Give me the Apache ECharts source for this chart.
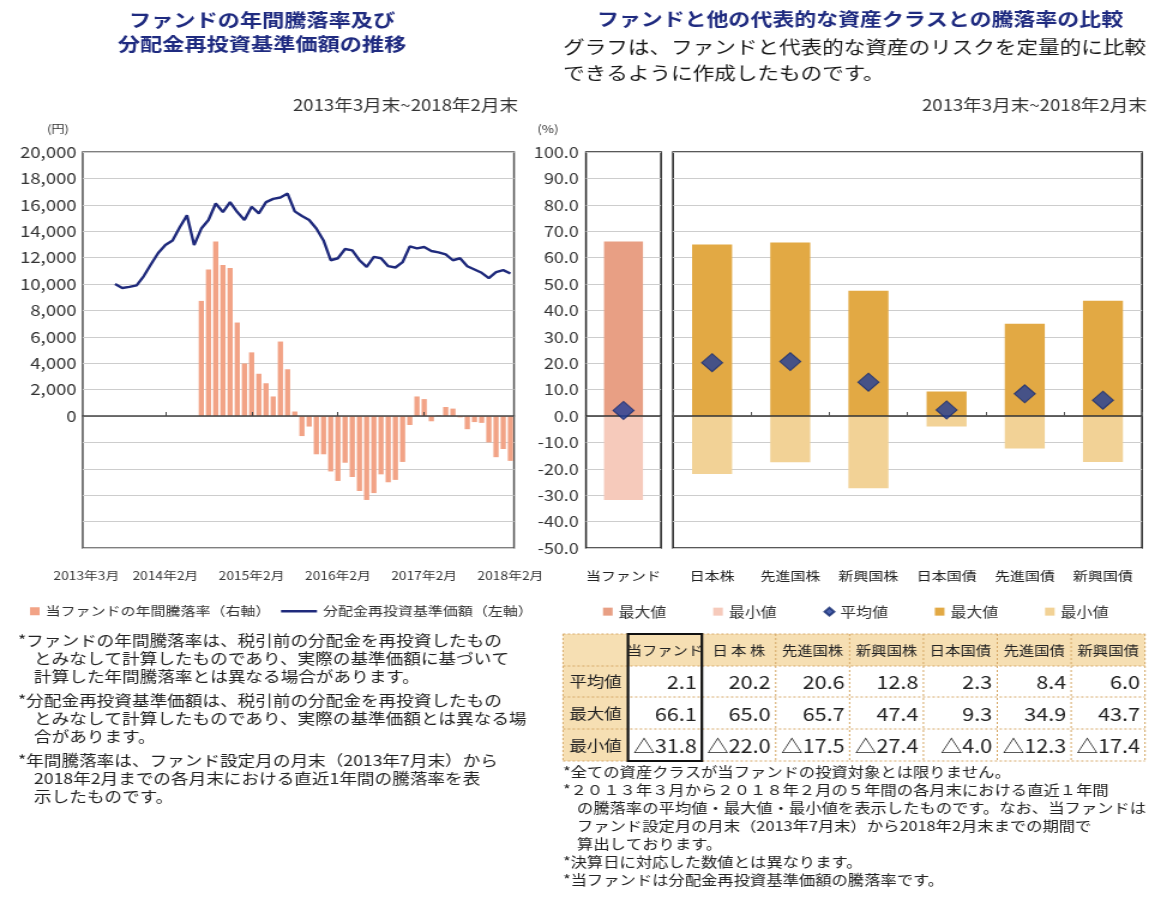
<!DOCTYPE html>
<html><head><meta charset="utf-8">
<script src="https://cdn.jsdelivr.net/npm/echarts/dist/echarts.min.js"></script>
<style>
html,body{margin:0;padding:0;background:#fff;overflow:hidden;}
#wrap{width:1149px;height:913px;overflow:hidden;}
#c{width:958px;height:913px;transform:scaleX(1.19937);transform-origin:0 0;}
</style></head><body><div id="wrap"><div id="c"></div></div>
<script>
// ---------------- data ----------------
const months = ['2013年3月','2013年4月','2013年5月','2013年6月','2013年7月','2013年8月','2013年9月','2013年10月','2013年11月','2013年12月',
'2014年1月','2014年2月','2014年3月','2014年4月','2014年5月','2014年6月','2014年7月','2014年8月','2014年9月','2014年10月','2014年11月','2014年12月',
'2015年1月','2015年2月','2015年3月','2015年4月','2015年5月','2015年6月','2015年7月','2015年8月','2015年9月','2015年10月','2015年11月','2015年12月',
'2016年1月','2016年2月','2016年3月','2016年4月','2016年5月','2016年6月','2016年7月','2016年8月','2016年9月','2016年10月','2016年11月','2016年12月',
'2017年1月','2017年2月','2017年3月','2017年4月','2017年5月','2017年6月','2017年7月','2017年8月','2017年9月','2017年10月','2017年11月','2017年12月',
'2018年1月','2018年2月'];
const xTickLabels = ['2013年3月','2014年2月','2015年2月','2016年2月','2017年2月','2018年2月'];
// 分配金再投資基準価額（円）
const navValues = [null,null,null,null,10000,9700,9780,9900,10600,11500,
12350,12950,13300,14300,15200,12950,14200,14850,16100,15450,16200,15450,
14850,15850,15350,16200,16450,16550,16850,15500,15150,14850,14200,13300,
11800,11950,12650,12550,11800,11300,12050,11950,11350,11250,11650,12850,
12700,12800,12500,12400,12250,11800,11950,11350,11100,10850,10450,10900,
11050,10800];
// 当ファンドの年間騰落率（％）
const annualReturns = [null,null,null,null,null,null,null,null,null,null,
null,null,null,null,null,null,43.6,55.5,66.1,57.2,56.1,35.4,
19.9,24.1,16.0,12.4,7.4,28.2,17.7,1.7,-7.6,-4.0,-14.5,-14.5,
-21.0,-24.6,-17.7,-23.1,-28.4,-31.8,-29.2,-22.1,-25.1,-24.2,-17.4,-3.4,
7.4,6.4,-2.0,0.3,3.4,2.8,-0.5,-5.0,-2.3,-2.6,-10.0,-15.6,
-12.5,-17.0];
const assetCategories = ['当ファンド','日本株','先進国株','新興国株','日本国債','先進国債','新興国債'];
const tableHeaders = ['当ファンド','日 本 株','先進国株','新興国株','日本国債','先進国債','新興国債'];
const rowLabels = ['平均値','最大値','最小値'];
const avgValues = [2.1, 20.2, 20.6, 12.8, 2.3, 8.4, 6.0];
const maxValues = [66.1, 65.0, 65.7, 47.4, 9.3, 34.9, 43.7];
const minValues = [-31.8, -22.0, -17.5, -27.4, -4.0, -12.3, -17.4];

const leftNotes = [
 ['*ファンドの年間騰落率は、税引前の分配金を再投資したもの','とみなして計算したものであり、実際の基準価額に基づいて','計算した年間騰落率とは異なる場合があります。'],
 ['*分配金再投資基準価額は、税引前の分配金を再投資したもの','とみなして計算したものであり、実際の基準価額とは異なる場','合があります。'],
 ['*年間騰落率は、ファンド設定月の月末（2013年7月末）から','2018年2月までの各月末における直近1年間の騰落率を表','示したものです。']
];
const rightNotes = [
 ['*全ての資産クラスが当ファンドの投資対象とは限りません。'],
 ['*２０１３年３月から２０１８年２月の５年間の各月末における直近１年間','の騰落率の平均値・最大値・最小値を表示したものです。なお、当ファンドは','ファンド設定月の月末（2013年7月末）から2018年2月末までの期間で','算出しております。'],
 ['*決算日に対応した数値とは異なります。'],
 ['*当ファンドは分配金再投資基準価額の騰落率です。']
];

// ---------------- layout ----------------
const SX = 1149/958;
const X = v => v / SX;
const FF = '"Noto Sans CJK JP","Noto Sans",sans-serif';
const NAVY = '#1f2b80';

function txt(x, y, text, size, o) {
  o = o || {};
  const align = o.align || 'left';
  return {type:'text', x: X(x), y: y, z: 50, silent:true,
    style:{text:text, fill:o.color||'#222', font:(o.weight||'normal')+' '+size+'px '+FF,
      textAlign:align, align:align, textVerticalAlign:'middle', verticalAlign:'middle', textBaseline:'middle'}};
}

const graphics = [];
graphics.push(txt(262, 20, 'ファンドの年間騰落率及び', 18.5, {align:'center', weight:'bold', color:NAVY}));
graphics.push(txt(262, 44, '分配金再投資基準価額の推移', 18.5, {align:'center', weight:'bold', color:NAVY}));
graphics.push(txt(518, 105, '2013年3月末~2018年2月末', 15.5, {align:'right', color:'#333'}));
graphics.push(txt(58, 129, '(円)', 11, {align:'center', color:'#333'}));
graphics.push(txt(860, 19, 'ファンドと他の代表的な資産クラスとの騰落率の比較', 18.3, {align:'center', weight:'bold', color:NAVY}));
graphics.push(txt(563, 47, 'グラフは、ファンドと代表的な資産のリスクを定量的に比較', 18, {color:'#1a1a1a'}));
graphics.push(txt(563, 73, 'できるように作成したものです。', 18, {color:'#1a1a1a'}));
graphics.push(txt(1147, 105, '2013年3月末~2018年2月末', 15.5, {align:'right', color:'#333'}));
graphics.push(txt(548, 129, '(%)', 11, {align:'center', color:'#333'}));

// notes
let ny = 640;
leftNotes.forEach(block => { block.forEach((line, i) => { graphics.push(txt(i===0?18:34, ny, line, 14.7)); ny += 18; }); ny += 6; });
ny = 772;
rightNotes.forEach(block => { block.forEach((line, i) => { graphics.push(txt(i===0?563:577, ny, line, 13.6)); ny += 18; }); });

// table built from the same arrays
const tX0 = 563, tC = 628, tR = 1145, colW = (tR - tC) / 7;
const rowY = [634, 666, 697, 729, 761];
const tan = '#f6dfb3', bord = '#d6a866';
graphics.push({type:'rect', shape:{x:X(tX0), y:rowY[0], width:X(tR)-X(tX0), height:rowY[1]-rowY[0]}, style:{fill:tan}, z:40});
graphics.push({type:'rect', shape:{x:X(tX0), y:rowY[1], width:X(tC)-X(tX0), height:rowY[4]-rowY[1]}, style:{fill:tan}, z:40});
for (let r = 0; r < rowY.length; r++) {
  graphics.push({type:'line', shape:{x1:X(tX0), y1:rowY[r], x2:X(tR), y2:rowY[r]}, style:{stroke:bord, lineWidth:1, lineDash:[2,2]}, z:41});
}
for (let c = 0; c <= 8; c++) {
  const xx = c === 0 ? tX0 : tC + (c-1)*colW;
  graphics.push({type:'line', shape:{x1:X(xx), y1:rowY[0], x2:X(xx), y2:rowY[4]}, style:{stroke:bord, lineWidth:1, lineDash:[2,2]}, z:41});
}
tableHeaders.forEach((h, c) => graphics.push(txt(tC + (c+0.5)*colW, (rowY[0]+rowY[1])/2, h, 12.8, {align:'center'})));
const tableRows = [avgValues, maxValues, minValues];
rowLabels.forEach((l, r) => graphics.push(txt((tX0+tC)/2, (rowY[r+1]+rowY[r+2])/2, l, 14.5, {align:'center'})));
tableRows.forEach((arr, r) => arr.forEach((v, c) => {
  const s = v < 0 ? '△' + Math.abs(v).toFixed(1) : v.toFixed(1);
  graphics.push(txt(tC + (c+1)*colW - 5, (rowY[r+1]+rowY[r+2])/2 + 1, s, 18, {align:'right'}));
}));
graphics.push({type:'rect', shape:{x:X(tC), y:rowY[0], width:X(colW), height:rowY[4]-rowY[0]}, style:{fill:null, stroke:'#111', lineWidth:2.2}, z:45});

const split = {show:true, lineStyle:{color:'#cdcdcd', width:1.2}};
const pctAxis = (g, labels) => ({gridIndex:g, type:'value', min:-50, max:100, interval:10,
  axisLine:{show:false}, axisTick:{show:false}, splitLine:split,
  axisLabel: labels ? {formatter: v => v.toFixed(1), fontSize:15, color:'#333', margin:6, fontFamily:FF} : {show:false}});

const GT = 152, GH = 396;
const option = {
  animation:false,
  backgroundColor:'#fff',
  textStyle:{fontFamily:FF},
  grid:[
    {left:X(82.7), top:GT, width:X(514)-X(82.7), height:GH, show:true, borderColor:'#555', borderWidth:1.5},
    {left:X(586), top:GT, width:X(661)-X(586), height:GH, show:true, borderColor:'#222', borderWidth:1.5},
    {left:X(673), top:GT, width:X(1142)-X(673), height:GH, show:true, borderColor:'#222', borderWidth:1.5}
  ],
  xAxis:[
    {gridIndex:0, type:'category', data:months, boundaryGap:true, position:'bottom',
      axisLine:{show:false, onZero:false}, axisTick:{show:false},
      axisLabel:{interval:(i)=>xTickLabels.includes(months[i]), fontSize:11.5, color:'#333', margin:22, fontFamily:FF}},
    {gridIndex:0, type:'category', data:months, boundaryGap:true, position:'top', z:5,
      axisLine:{show:true, onZero:true, lineStyle:{color:'#444', width:1.5}},
      axisTick:{show:true, alignWithLabel:true, interval:(i)=>i>0 && i<months.length-1 && xTickLabels.includes(months[i]), length:4, lineStyle:{color:'#444'}},
      axisLabel:{show:false}},
    {gridIndex:1, type:'category', data:assetCategories.slice(0,1), position:'bottom',
      axisLine:{show:false, onZero:false}, axisTick:{show:false},
      axisLabel:{fontSize:12.5, color:'#222', margin:22, fontFamily:FF}},
    {gridIndex:1, type:'category', data:assetCategories.slice(0,1), position:'top', z:5,
      axisLine:{show:true, onZero:true, lineStyle:{color:'#333', width:1.5}}, axisTick:{show:false}, axisLabel:{show:false}},
    {gridIndex:2, type:'category', data:assetCategories.slice(1), position:'bottom',
      axisLine:{show:false, onZero:false}, axisTick:{show:false},
      axisLabel:{fontSize:12.5, color:'#222', margin:22, fontFamily:FF}},
    {gridIndex:2, type:'category', data:assetCategories.slice(1), position:'top', z:5,
      axisLine:{show:true, onZero:true, lineStyle:{color:'#333', width:1.5}},
      axisTick:{show:true, length:4, lineStyle:{color:'#555'}}, axisLabel:{show:false}}
  ],
  yAxis:[
    {gridIndex:0, type:'value', min:-10000, max:20000, interval:2000, position:'left',
      axisLine:{show:false}, axisTick:{show:false}, splitLine:split,
      axisLabel:{formatter: v => v < 0 ? '' : v.toLocaleString('en-US'), fontSize:15.5, color:'#333', margin:5, fontFamily:FF}},
    {gridIndex:0, type:'value', min:-50, max:100, interval:10, position:'right',
      axisLine:{show:false}, axisTick:{show:false}, splitLine:{show:false}, axisLabel:{show:false}},
    pctAxis(1, true),
    pctAxis(2, false)
  ],
  legend:[
    {data:[{name:'当ファンドの年間騰落率（右軸）', icon:'rect'}], left:X(24), top:600, itemWidth:8, itemHeight:8, selectedMode:false,
      textStyle:{fontSize:12.5, color:'#333', fontFamily:FF}},
    {data:[{name:'分配金再投資基準価額（左軸）', icon:'rect'}], left:X(275), top:600, itemWidth:30, itemHeight:2.5, selectedMode:false,
      textStyle:{fontSize:12.5, color:'#333', fontFamily:FF}},
    {data:[{name:'最大値', icon:'rect'},{name:'最小値', icon:'rect'},{name:'平均値', icon:'diamond'},{name:'最大値 ', icon:'rect'},{name:'最小値 ', icon:'rect'}],
      left:X(597), top:600, itemGap:39, itemWidth:8, itemHeight:8, selectedMode:false, formatter: n => n.trim(),
      textStyle:{fontSize:13.3, color:'#333', fontFamily:FF}}
  ],
  series:[
    {name:'当ファンドの年間騰落率（右軸）', type:'bar', xAxisIndex:0, yAxisIndex:1, data:annualReturns, barWidth:'72%',
      itemStyle:{color:'#f2a386'}, z:2},
    {name:'分配金再投資基準価額（左軸）', type:'line', xAxisIndex:0, yAxisIndex:0, data:navValues, symbol:'none',
      lineStyle:{color:'#1f2a7c', width:2.4}, itemStyle:{color:'#1f2a7c'}, z:6},
    {name:'最大値', type:'bar', xAxisIndex:2, yAxisIndex:2, data:maxValues.slice(0,1), stack:'fund', barWidth:X(39), itemStyle:{color:'#e89f84'}},
    {name:'最小値', type:'bar', xAxisIndex:2, yAxisIndex:2, data:minValues.slice(0,1), stack:'fund', barWidth:X(39), itemStyle:{color:'#f6cabb'}},
    {name:'平均値', type:'scatter', xAxisIndex:2, yAxisIndex:2, data:avgValues.slice(0,1), symbol:'diamond', symbolSize:[X(21),18],
      itemStyle:{color:'#1f3c98', borderColor:'#142a70', borderWidth:1}, z:10},
    {name:'最大値 ', type:'bar', xAxisIndex:4, yAxisIndex:3, data:maxValues.slice(1), stack:'asset', barWidth:X(40), itemStyle:{color:'#e2a944'}},
    {name:'最小値 ', type:'bar', xAxisIndex:4, yAxisIndex:3, data:minValues.slice(1), stack:'asset', barWidth:X(40), itemStyle:{color:'#f2d296'}},
    {name:'平均値', type:'scatter', xAxisIndex:4, yAxisIndex:3, data:avgValues.slice(1), symbol:'diamond', symbolSize:[X(21),18],
      itemStyle:{color:'#1f3c98', borderColor:'#142a70', borderWidth:1}, z:10}
  ],
  graphic: graphics
};
const chart = echarts.init(document.getElementById('c'), null, {width:958, height:913, renderer:'canvas'});
chart.setOption(option);
</script></body></html>
